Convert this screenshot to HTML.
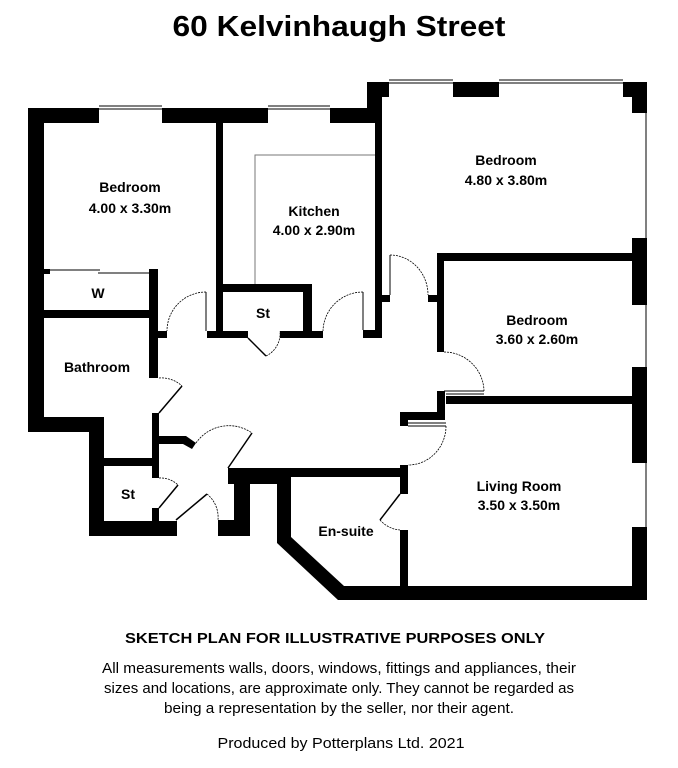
<!DOCTYPE html>
<html><head><meta charset="utf-8"><style>
html,body{margin:0;padding:0;background:#fff;}
svg{display:block;}
text{font-family:"Liberation Sans",Arial,sans-serif;fill:#000;}
.r{font-weight:bold;font-size:14px;text-anchor:middle;}
</style></head><body>
<svg width="678" height="768" viewBox="0 0 678 768" xmlns="http://www.w3.org/2000/svg">
<rect width="678" height="768" fill="#fff"/>
<text x="339" y="36" font-size="29" font-weight="bold" text-anchor="middle" textLength="333" lengthAdjust="spacingAndGlyphs">60 Kelvinhaugh Street</text>

<g fill="#000">
<!-- top wall left section -->
<rect x="28" y="108" width="71" height="15"/>
<rect x="162" y="108" width="106" height="15"/>
<rect x="330" y="108" width="45" height="15"/>
<!-- left outer wall -->
<rect x="28" y="108" width="16" height="324"/>
<rect x="28" y="417" width="76" height="15"/>
<rect x="89" y="417" width="15" height="119"/>
<rect x="89" y="521" width="88" height="15"/>
<!-- entrance bottom block -->
<rect x="218" y="520" width="32" height="16"/>
<rect x="234" y="468" width="16" height="68"/>
<rect x="228" y="468" width="50" height="16"/>
<!-- en-suite top wall -->
<rect x="250" y="468" width="158" height="9"/>
<!-- en-suite left wall + diagonal -->
<polygon points="277,477 291,477 291,537 344,586 646,586 646,600 338,600 277,543"/>
<!-- right wall blocks -->
<rect x="632" y="82" width="15" height="31"/>
<rect x="623" y="82" width="24" height="15"/>
<rect x="632" y="238" width="15" height="67"/>
<rect x="632" y="367" width="15" height="96"/>
<rect x="632" y="527" width="15" height="73"/>
<!-- big bedroom top -->
<rect x="367" y="82" width="22" height="15"/>
<rect x="453" y="82" width="46" height="15"/>
<rect x="367" y="82" width="15" height="41"/>
<!-- big bedroom left wall -->
<rect x="375" y="97" width="7" height="241"/>
<rect x="363" y="330" width="19" height="8"/>
<rect x="382" y="295" width="8" height="7"/>
<!-- bedroom 3.60 -->
<rect x="437" y="253" width="195" height="8"/>
<rect x="437" y="253" width="7" height="99"/>
<rect x="428" y="295" width="9" height="7"/>
<!-- living top wall -->
<rect x="446" y="396" width="187" height="8"/>
<rect x="437" y="391" width="8" height="22"/>
<rect x="400" y="412" width="45" height="8"/>
<rect x="400" y="412" width="8" height="14"/>
<!-- living left wall -->
<rect x="400" y="465" width="8" height="29"/>
<rect x="400" y="530" width="8" height="56"/>
<!-- kitchen -->
<rect x="216" y="123" width="7" height="215"/>
<rect x="223" y="284" width="89" height="8"/>
<rect x="303" y="284" width="9" height="54"/>
<rect x="207" y="331" width="41" height="7"/>
<rect x="280" y="331" width="43" height="7"/>
<!-- left bedroom right wall / wardrobe -->
<rect x="149" y="269" width="9" height="109"/>
<rect x="158" y="331" width="9" height="7"/>
<rect x="44" y="269" width="6" height="5"/>
<rect x="44" y="310" width="105" height="8"/>
<!-- bathroom right wall -->
<rect x="152" y="413" width="7" height="65"/>
<polygon points="159,436 186,436 196,443 192,449 183,444 159,444"/>
<rect x="104" y="458" width="48" height="8"/>
<rect x="152" y="508" width="7" height="13"/>
<rect x="140" y="458" width="12" height="8"/>
</g>

<!-- windows thin lines -->
<g stroke="#000" stroke-width="1" fill="none">
<line x1="99" y1="106" x2="162" y2="106"/><line x1="99" y1="109" x2="162" y2="109"/>
<line x1="268" y1="106" x2="330" y2="106"/><line x1="268" y1="109" x2="330" y2="109"/>
<line x1="389" y1="80" x2="453" y2="80"/><line x1="389" y1="83" x2="453" y2="83"/>
<line x1="499" y1="80" x2="623" y2="80"/><line x1="499" y1="83" x2="623" y2="83"/>
<line x1="646" y1="113" x2="646" y2="527"/>
<!-- kitchen worktop -->
<polyline points="255,284 255,155 375,155" stroke="#777"/>
<!-- wardrobe sliding doors -->
<line x1="50" y1="270" x2="100" y2="270"/><line x1="98" y1="273" x2="149" y2="273"/>
<!-- door leaves -->
<line x1="206" y1="292" x2="206" y2="331"/>
<line x1="363" y1="292" x2="363" y2="330"/>
<line x1="390" y1="255" x2="390" y2="295"/>
<line x1="248" y1="338" x2="266" y2="356" stroke-width="1.5"/>
<line x1="444" y1="391" x2="484" y2="391"/><line x1="446" y1="394" x2="484" y2="394"/>
<line x1="408" y1="426" x2="446" y2="426"/><line x1="408" y1="423" x2="446" y2="423"/>
<line x1="159" y1="413" x2="182" y2="386" stroke-width="1.5"/>
<line x1="159" y1="508" x2="178" y2="485" stroke-width="1.5"/>
<line x1="252" y1="433" x2="228" y2="468" stroke-width="1.5"/>
<line x1="176" y1="520" x2="207" y2="494" stroke-width="1.5"/>
<line x1="400" y1="494" x2="380" y2="520" stroke-width="1.5"/>
</g>
<g stroke="#000" stroke-width="0.8" fill="none" stroke-dasharray="2,1">
<path d="M206,292 A39,39 0 0 0 167,331"/>
<path d="M363,292 A40,40 0 0 0 323,331"/>
<path d="M390,255 A38,40 0 0 1 428,295"/>
<path d="M266,356 A25,25 0 0 0 280,331"/>
<path d="M444,352 A40,40 0 0 1 484,391"/>
<path d="M446,426 A38,39 0 0 1 408,465"/>
<path d="M159,378 A30,30 0 0 1 182,386"/>
<path d="M159,478 A25,25 0 0 1 178,485"/>
<path d="M196,443 A40,40 0 0 1 252,433"/>
<path d="M207,494 A30,30 0 0 1 218,520"/>
<path d="M380,520 A30,30 0 0 0 400,530"/>
</g>

<text class="r" x="130" y="192">Bedroom</text>
<text class="r" x="130" y="213">4.00 x 3.30m</text>
<text class="r" x="314" y="216">Kitchen</text>
<text class="r" x="314" y="235">4.00 x 2.90m</text>
<text class="r" x="506" y="165">Bedroom</text>
<text class="r" x="506" y="185">4.80 x 3.80m</text>
<text class="r" x="537" y="325">Bedroom</text>
<text class="r" x="537" y="344">3.60 x 2.60m</text>
<text class="r" x="98" y="298">W</text>
<text class="r" x="263" y="318">St</text>
<text class="r" x="97" y="372">Bathroom</text>
<text class="r" x="128" y="499">St</text>
<text class="r" x="519" y="491">Living Room</text>
<text class="r" x="519" y="510">3.50 x 3.50m</text>
<text class="r" x="346" y="536">En-suite</text>

<text x="335" y="643" font-size="14.5" font-weight="bold" text-anchor="middle" textLength="420" lengthAdjust="spacingAndGlyphs">SKETCH PLAN FOR ILLUSTRATIVE PURPOSES ONLY</text>
<text x="339" y="673" font-size="14.5" text-anchor="middle" textLength="474" lengthAdjust="spacingAndGlyphs">All measurements walls, doors, windows, fittings and appliances, their</text>
<text x="339" y="693" font-size="14.5" text-anchor="middle" textLength="470" lengthAdjust="spacingAndGlyphs">sizes and locations, are approximate only. They cannot be regarded as</text>
<text x="339" y="713" font-size="14.5" text-anchor="middle" textLength="350" lengthAdjust="spacingAndGlyphs">being a representation by the seller, nor their agent.</text>
<text x="341" y="748" font-size="14.5" text-anchor="middle" textLength="247" lengthAdjust="spacingAndGlyphs">Produced by Potterplans Ltd. 2021</text>
</svg>
</body></html>
